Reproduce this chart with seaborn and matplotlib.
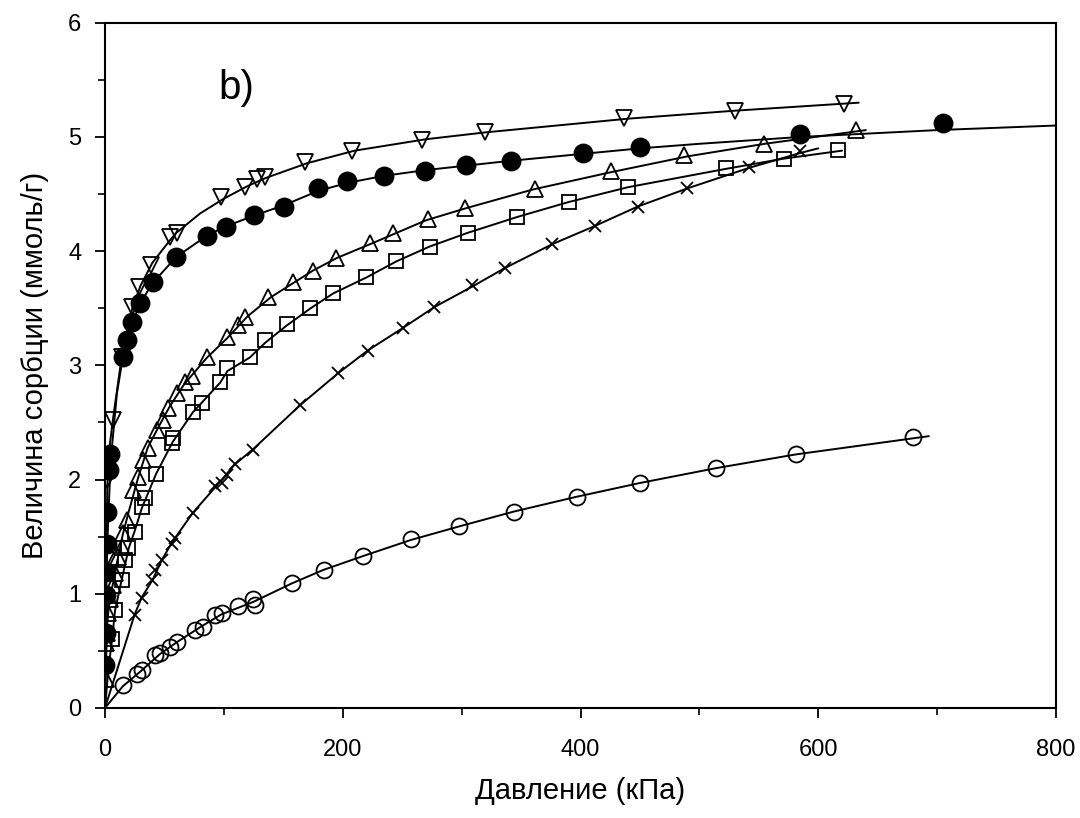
import matplotlib
matplotlib.use("Agg")
import matplotlib.pyplot as plt
import seaborn as sns
import numpy as np
from matplotlib.ticker import MultipleLocator

sns.set_theme(style="white")
plt.rcParams['font.family'] = ['Liberation Sans', 'DejaVu Sans']
plt.rcParams['text.color'] = 'black'
plt.rcParams['axes.labelcolor'] = 'black'
plt.rcParams['xtick.color'] = 'black'
plt.rcParams['ytick.color'] = 'black'

# --- measured sorption points (pressure kPa, uptake mmol/g) ---
tri_down_p = [0.5, 1, 2, 7, 14, 23, 29, 39, 55, 61, 98, 118, 128, 135, 168, 208, 267, 320, 437, 530, 622]
tri_down_a = [0.62, 1.30, 2.00, 2.52, 3.07, 3.51, 3.69, 3.88, 4.12, 4.16, 4.47, 4.56, 4.63, 4.65, 4.78, 4.88, 4.97, 5.04, 5.17, 5.23, 5.29]

filled_p = [0.2, 0.5, 0.8, 1.0, 1.4, 2.0, 3.4, 4.2, 15, 18.4, 22.4, 29.6, 40.6, 59.8, 85.6, 101.7, 125.3, 151, 179, 204, 235, 269, 304, 341.5, 402, 450, 584.5, 705]
filled_a = [0.38, 0.66, 0.99, 1.19, 1.44, 1.72, 2.08, 2.22, 3.07, 3.22, 3.38, 3.55, 3.73, 3.95, 4.13, 4.21, 4.32, 4.39, 4.55, 4.61, 4.66, 4.70, 4.75, 4.79, 4.86, 4.91, 5.03, 5.12]

tri_up_p = [0.6, 1.2, 1.6, 2.5, 4.2, 7, 8.4, 11, 14, 15, 18.3, 23.5, 28, 32, 36, 43.5, 49, 53, 61, 67, 73, 86, 103, 112, 118, 137, 158, 175, 194, 223, 242, 272, 303, 362, 426, 487, 554, 632]
tri_up_a = [0.25, 0.57, 0.66, 0.83, 0.95, 1.08, 1.18, 1.32, 1.41, 1.53, 1.65, 1.91, 2.02, 2.17, 2.28, 2.43, 2.52, 2.63, 2.76, 2.85, 2.91, 3.07, 3.25, 3.35, 3.42, 3.60, 3.73, 3.83, 3.94, 4.07, 4.16, 4.28, 4.38, 4.54, 4.70, 4.84, 4.94, 5.06]

square_p = [5.9, 8.4, 14, 16.8, 19.5, 25, 31, 33.6, 43, 56, 57, 74, 81.6, 96.7, 102.6, 122, 135, 153, 172.5, 192, 219.5, 245, 273, 305, 347, 390, 440, 522, 571, 617]
square_a = [0.60, 0.86, 1.12, 1.30, 1.40, 1.54, 1.76, 1.84, 2.05, 2.32, 2.36, 2.59, 2.67, 2.85, 2.98, 3.07, 3.22, 3.36, 3.50, 3.63, 3.77, 3.91, 4.04, 4.16, 4.30, 4.43, 4.56, 4.73, 4.81, 4.89]

cross_p = [25, 31, 39.5, 42, 48, 56, 59, 74, 92.5, 98.4, 103, 109, 124.5, 164, 196, 221, 250.6, 276.7, 308.7, 336.4, 376, 412, 448, 490, 542, 584.5]
cross_a = [0.81, 0.96, 1.12, 1.21, 1.30, 1.44, 1.49, 1.71, 1.94, 1.97, 2.04, 2.14, 2.26, 2.65, 2.93, 3.13, 3.33, 3.51, 3.70, 3.85, 4.06, 4.22, 4.39, 4.55, 4.74, 4.88]

open_p = [15, 27, 31, 42, 46, 54.7, 61, 75.7, 82.4, 92.5, 98.4, 112, 124.5, 126, 157, 184, 217, 257, 298, 344, 397, 450, 514, 581, 680]
open_a = [0.20, 0.30, 0.33, 0.46, 0.48, 0.53, 0.58, 0.68, 0.71, 0.81, 0.83, 0.89, 0.95, 0.90, 1.09, 1.21, 1.33, 1.48, 1.59, 1.72, 1.85, 1.97, 2.10, 2.22, 2.37]

# --- fitted isotherm curves ---
fit_down_p = [0, 0.5, 1, 2, 4, 7, 14, 23, 30, 40, 55, 60, 80, 100, 120, 135, 170, 210, 270, 320, 440, 530, 634]
fit_down_a = [0, 0.6, 1.2, 1.95, 2.3, 2.55, 3.07, 3.5, 3.7, 3.9, 4.1, 4.16, 4.33, 4.46, 4.57, 4.64, 4.77, 4.88, 4.98, 5.04, 5.16, 5.23, 5.30]

fit_filled_p = [0, 0.2, 0.5, 1, 1.4, 2, 3, 4.5, 6, 10, 15, 20, 30, 40, 60, 85, 100, 125, 150, 180, 205, 235, 270, 305, 340, 400, 450, 500, 585, 700, 800]
fit_filled_a = [0, 0.38, 0.66, 0.99, 1.19, 1.44, 1.72, 2.08, 2.3, 2.75, 3.07, 3.3, 3.55, 3.72, 3.95, 4.13, 4.21, 4.31, 4.40, 4.53, 4.60, 4.66, 4.71, 4.75, 4.79, 4.85, 4.90, 4.94, 5.00, 5.06, 5.10]

fit_up_p = [0, 1, 2, 4, 7, 10, 15, 20, 28, 36, 45, 55, 67, 86, 103, 120, 140, 175, 195, 225, 270, 305, 360, 425, 490, 555, 640]
fit_up_a = [0, 0.45, 0.75, 0.97, 1.1, 1.27, 1.52, 1.72, 2.02, 2.28, 2.46, 2.65, 2.84, 3.07, 3.24, 3.43, 3.60, 3.83, 3.94, 4.07, 4.27, 4.38, 4.54, 4.69, 4.83, 4.94, 5.06]

fit_square_p = [0, 3, 6, 8.4, 14, 20, 25, 31, 43, 57, 74, 82, 97, 103, 122, 135, 153, 173, 192, 220, 245, 273, 305, 347, 390, 440, 522, 571, 620]
fit_square_a = [0, 0.35, 0.6, 0.85, 1.12, 1.40, 1.55, 1.75, 2.05, 2.33, 2.59, 2.68, 2.85, 2.95, 3.07, 3.2, 3.35, 3.50, 3.63, 3.77, 3.91, 4.04, 4.16, 4.30, 4.43, 4.56, 4.72, 4.81, 4.88]

fit_cross_p = [0, 25, 31, 40, 48, 57, 74, 95, 109, 125, 164, 196, 221, 251, 277, 309, 336, 376, 412, 448, 490, 542, 585, 600]
fit_cross_a = [0, 0.82, 0.97, 1.12, 1.3, 1.46, 1.71, 1.96, 2.13, 2.27, 2.65, 2.93, 3.13, 3.33, 3.51, 3.69, 3.85, 4.06, 4.22, 4.39, 4.55, 4.73, 4.86, 4.90]

fit_open_p = [0, 15, 31, 46, 61, 82, 98, 125, 157, 184, 217, 257, 298, 344, 397, 450, 514, 581, 693]
fit_open_a = [0, 0.19, 0.33, 0.47, 0.58, 0.72, 0.82, 0.93, 1.09, 1.21, 1.33, 1.47, 1.59, 1.72, 1.85, 1.97, 2.10, 2.22, 2.38]

x_ticks = [0, 200, 400, 600, 800]
y_ticks = [0, 1, 2, 3, 4, 5, 6]

fig = plt.figure(figsize=(10.8, 8.18), dpi=100)
ax = fig.add_axes([0.0972, 0.1345, 0.8806, 0.8377])

curves = [(fit_down_p, fit_down_a), (fit_filled_p, fit_filled_a), (fit_up_p, fit_up_a),
          (fit_square_p, fit_square_a), (fit_cross_p, fit_cross_a), (fit_open_p, fit_open_a)]
for px, py in curves:
    sns.lineplot(x=px, y=py, ax=ax, color='black', linewidth=1.4, sort=False,
                 estimator=None, zorder=2)

series = [
    (tri_down_p, tri_down_a, 'v', 12, 'none'),
    (filled_p, filled_a, 'o', 13, 'black'),
    (tri_up_p, tri_up_a, '^', 12, 'none'),
    (square_p, square_a, 's', 10.5, 'none'),
    (cross_p, cross_a, 'x', 9, 'none'),
    (open_p, open_a, 'o', 11.5, 'none'),
]
for px, py, mk, ms, fc in series:
    sns.lineplot(x=px, y=py, ax=ax, color='black', linestyle='', marker=mk,
                 markersize=ms, markerfacecolor=fc, markeredgecolor='black',
                 markeredgewidth=1.3, sort=False, estimator=None, zorder=3)

ax.set_xlim(0, 800)
ax.set_ylim(0, 6)
ax.set_xticks(x_ticks)
ax.set_yticks(y_ticks)
ax.xaxis.set_minor_locator(MultipleLocator(100))
ax.yaxis.set_minor_locator(MultipleLocator(0.5))
ax.tick_params(axis='both', which='major', direction='out', length=7, width=1.3,
               labelsize=17, colors='black', bottom=True, left=True, top=False, right=False)
ax.tick_params(axis='x', which='major', pad=15)
ax.tick_params(axis='y', which='major', pad=10)
ax.tick_params(axis='both', which='minor', direction='out', length=5, width=1.2,
               colors='black', bottom=True, left=True, top=False, right=False)
for s in ax.spines.values():
    s.set_color('black')
    s.set_linewidth(1.5)
    s.set_visible(True)

ax.set_xlabel('Давление (кПа)', fontsize=21, labelpad=12, color='black')
ax.set_ylabel('Величина сорбции (ммоль/г)', fontsize=21, labelpad=14, color='black')
ax.text(95, 5.43, 'b)', fontsize=29, ha='left', va='center', color='black')
ax.grid(False)

fig.savefig('out.png', dpi=100)
